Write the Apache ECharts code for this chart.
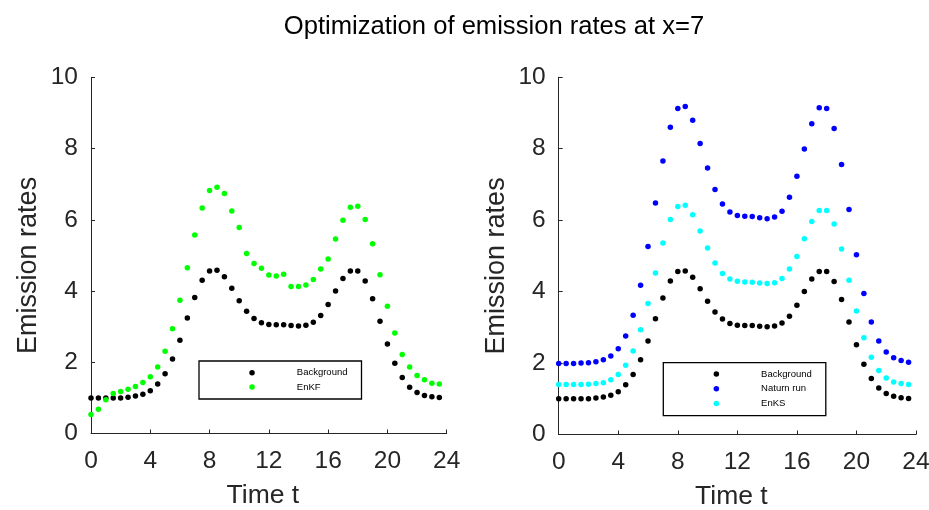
<!DOCTYPE html>
<html>
<head>
<meta charset="utf-8">
<script src="https://cdn.jsdelivr.net/npm/echarts@6/dist/echarts.min.js"></script>
<style>html,body{margin:0;padding:0;background:#fff}#c{width:929px;height:510px}</style>
</head>
<body>
<div id="c"></div>
<script>
// Time points t (hours)
var times = [0,0.5,1,1.5,2,2.5,3,3.5,4,4.5,5,5.5,6,6.5,7,7.5,8,8.5,9,9.5,10,10.5,11,11.5,
             12,12.5,13,13.5,14,14.5,15,15.5,16,16.5,17,17.5,18,18.5,19,19.5,20,20.5,21,21.5,22,22.5,23,23.5];
// Background emission rates
var background = [1.0,1.0,1.0,1.0,1.0,1.02,1.05,1.1,1.2,1.39,1.68,2.09,2.62,3.24,3.82,4.30,4.56,4.58,4.40,4.08,
                  3.73,3.43,3.23,3.11,3.06,3.05,3.05,3.03,3.02,3.04,3.12,3.31,3.62,4.0,4.35,4.56,4.56,4.28,3.78,3.15,
                  2.51,1.97,1.57,1.30,1.15,1.07,1.03,1.01];
// EnKF estimate (left panel)
var enkf = [0.53,0.68,0.95,1.12,1.18,1.24,1.32,1.43,1.59,1.87,2.31,2.94,3.74,4.65,5.57,6.33,6.82,6.91,6.74,6.25,
            5.78,5.05,4.77,4.64,4.45,4.42,4.47,4.13,4.13,4.17,4.32,4.62,4.90,5.46,5.99,6.35,6.38,6.01,5.33,4.46,
            3.57,2.82,2.22,1.87,1.63,1.51,1.41,1.39];
// Nature run (right panel)
var naturn = [1.99,1.99,1.99,2.0,2.01,2.04,2.09,2.2,2.40,2.76,3.34,4.18,5.26,6.48,7.66,8.60,9.13,9.18,8.80,8.15,
              7.46,6.86,6.45,6.23,6.13,6.11,6.10,6.07,6.04,6.09,6.25,6.64,7.23,7.99,8.70,9.15,9.13,8.57,7.56,6.30,
              5.03,3.95,3.15,2.62,2.31,2.15,2.07,2.02];
// EnKS estimate (right panel)
var enks = [1.40,1.40,1.40,1.40,1.41,1.43,1.45,1.53,1.68,1.94,2.34,2.93,3.67,4.52,5.36,6.02,6.38,6.42,6.15,5.70,
            5.22,4.80,4.51,4.35,4.29,4.27,4.26,4.24,4.23,4.25,4.37,4.63,4.98,5.48,5.96,6.27,6.27,5.89,5.19,4.32,
            3.46,2.71,2.16,1.79,1.58,1.47,1.43,1.40];
var xTicks = [0,4,8,12,16,20,24];
var yTicks = [0,2,4,6,8,10];

function pairs(ys){ return times.map(function(t,i){ return [t, ys[i]]; }); }

var FONT = 'Liberation Sans';
var AXC = '#262626';

function xAx(gi){
  return {
    gridIndex: gi, type: 'value', min: xTicks[0], max: xTicks[xTicks.length-1], interval: 4,
    name: 'Time t', nameLocation: 'middle', nameGap: 49,
    nameTextStyle: {fontFamily: FONT, fontSize: 26.5, color: AXC, padding: [0, 12, 0, 0]},
    axisLine: {show: true, onZero: false, lineStyle: {color: AXC, width: 1}},
    axisTick: {show: true, inside: true, length: 4, lineStyle: {color: AXC}},
    axisLabel: {fontFamily: FONT, fontSize: 24.5, color: AXC, margin: 15},
    splitLine: {show: false}
  };
}
function yAx(gi){
  return {
    gridIndex: gi, type: 'value', min: yTicks[0], max: yTicks[yTicks.length-1], interval: 2,
    name: 'Emission rates', nameLocation: 'middle', nameGap: 49,
    nameTextStyle: {fontFamily: FONT, fontSize: 27, color: AXC, padding: [0, 20, 0, 0]},
    axisLine: {show: true, onZero: false, lineStyle: {color: AXC, width: 1}},
    axisTick: {show: true, inside: true, length: 4, lineStyle: {color: AXC}},
    axisLabel: {fontFamily: FONT, fontSize: 24.5, color: AXC, margin: 13},
    splitLine: {show: false}
  };
}
function sc(name, data, color, gi){
  return {
    name: name, type: 'scatter', xAxisIndex: gi, yAxisIndex: gi,
    data: pairs(data), symbol: 'circle', symbolSize: 5.5, clip: false,
    itemStyle: {color: color, opacity: 1}, emphasis: {disabled: true}, animation: false
  };
}
function leg(data, left, top, pad, gap){
  return {
    data: data, orient: 'vertical', left: left, top: top, padding: pad, itemGap: gap,
    icon: 'circle', itemWidth: 5.5, itemHeight: 5.5, selectedMode: false,
    borderColor: '#000', borderWidth: 1.3, backgroundColor: '#fff',
    formatter: function(n){ return '{t|' + n + '}'; },
    textStyle: {rich: {t: {fontFamily: FONT, fontSize: 9.5, color: '#000', lineHeight: 10, padding: [0,0,0,37]}}}
  };
}

var chart = echarts.init(document.getElementById('c'), null, {renderer: 'canvas'});
chart.setOption({
  animation: false,
  backgroundColor: '#fff',
  title: {
    text: 'Optimization of emission rates at x=7', left: 494, top: 14, padding: 0, textAlign: 'center',
    textStyle: {fontFamily: FONT, fontSize: 25.6, fontWeight: 'normal', color: '#000'}
  },
  grid: [
    {left: 91, right: 482.3, top: 77.3, bottom: 76.5, containLabel: false, outerBoundsMode: 'none'},
    {left: 558.7, right: 13, top: 77.3, bottom: 75.5, containLabel: false, outerBoundsMode: 'none'}
  ],
  xAxis: [xAx(0), xAx(1)],
  yAxis: [yAx(0), yAx(1)],
  legend: [
    leg(['Background','EnKF'], 199, 361, [6.7, 14, 7, 50.3], 4.3),
    leg(['Background','Naturn run','EnKS'], 663.3, 362.7, [6.3, 14, 7.3, 50.3], 4.7)
  ],
  series: [
    sc('Background', background, '#000000', 0),
    sc('EnKF', enkf, '#00ff00', 0),
    sc('Background', background, '#000000', 1),
    sc('Naturn run', naturn, '#0000ff', 1),
    sc('EnKS', enks, '#00ffff', 1)
  ]
});
</script>
</body>
</html>
